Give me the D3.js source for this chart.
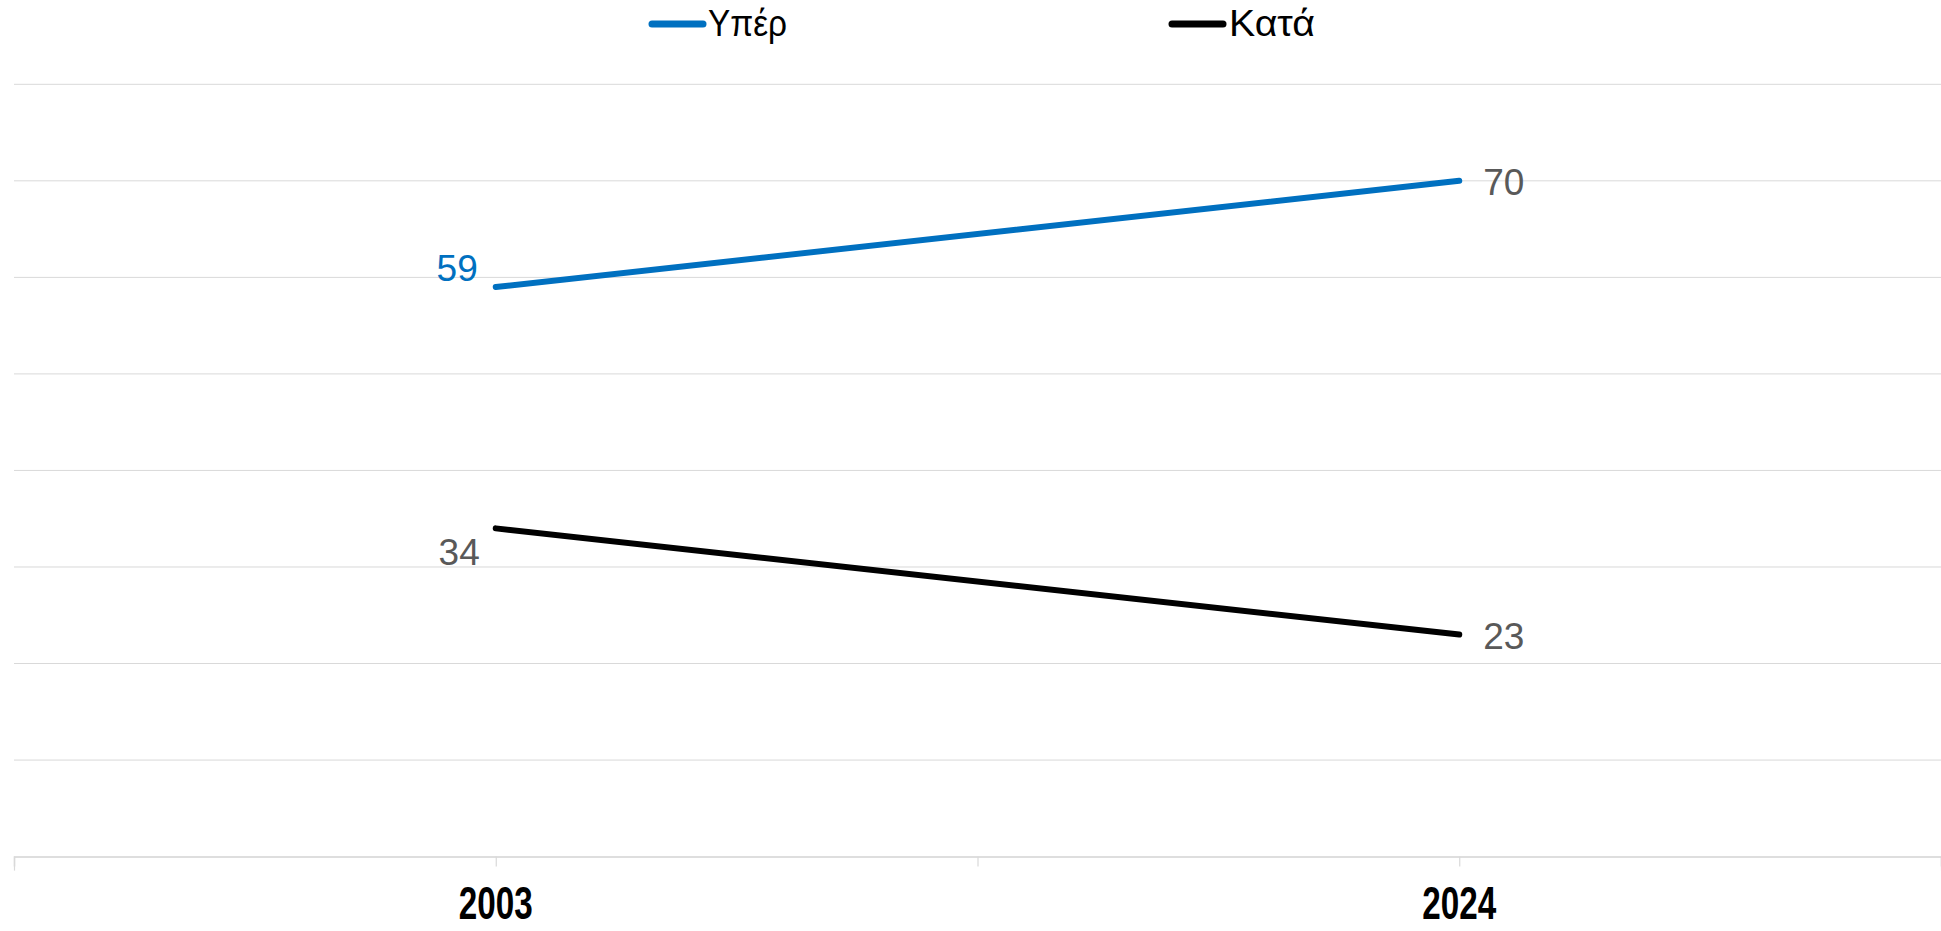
<!DOCTYPE html>
<html>
<head>
<meta charset="utf-8">
<script src="https://cdn.jsdelivr.net/npm/d3@7"></script>
<style>
  html, body { margin: 0; padding: 0; background: #fff; }
  svg { display: block; }
</style>
</head>
<body>
<svg id="chart" width="1941" height="931"></svg>
<script>
const categories = ["2003", "2024"];
const seriesNames = ["Υπέρ", "Κατά"];
const yperValues = [59, 70];
const kataValues = [34, 23];
const yTicks = [0, 10, 20, 30, 40, 50, 60, 70, 80];

const W = 1941, H = 931;
const svg = d3.select("#chart");
const sans = "'Liberation Sans', Arial, sans-serif";

// x: 4 equal slots, categories at positions 1 and 3
const x = d3.scaleLinear().domain([0, 4]).range([14, 1941]);
const catPos = categories.map((c, i) => 1 + 2 * i);
const y = d3.scaleLinear().domain([0, 80]).range([856.6, 84.3]);

// gridlines
svg.append("g").selectAll("line").data(yTicks.filter(d => d > 0)).join("line")
  .attr("x1", x(0)).attr("x2", x(4))
  .attr("y1", d => y(d)).attr("y2", d => y(d))
  .attr("stroke", "#d9d9d9").attr("stroke-width", 1);

// x axis
const axisG = svg.append("g").attr("transform", `translate(0,${y(0)})`);
axisG.call(d3.axisBottom(x).tickValues([0, 1, 2, 3, 4]).tickSize(10).tickFormat(""));
axisG.select(".domain").attr("stroke", "#d4d4d4").attr("stroke-width", 1.5);
axisG.selectAll(".tick line").attr("stroke", "#d9d9d9").attr("stroke-width", 1.2)
  .attr("y2", d => (d === 0 || d === 4) ? 14 : 10);

// category labels (condensed bold)
svg.append("g").selectAll("text").data(categories).join("text")
  .attr("x", (d, i) => x(catPos[i]))
  .attr("y", 919)
  .attr("text-anchor", "middle")
  .attr("font-family", sans)
  .attr("font-weight", "bold")
  .attr("font-size", 46)
  .attr("textLength", 74)
  .attr("lengthAdjust", "spacingAndGlyphs")
  .attr("fill", "#000")
  .text(d => d);

const series = [
  { name: seriesNames[0], values: yperValues, color: "#0070c0" },
  { name: seriesNames[1], values: kataValues, color: "#000000" }
];

const line = d3.line().x((d, i) => x(catPos[i])).y(d => y(d));

series.forEach(s => {
  svg.append("path")
    .attr("d", line(s.values))
    .attr("fill", "none")
    .attr("stroke", s.color)
    .attr("stroke-width", 6)
    .attr("stroke-linecap", "round");
});

// data labels
const labelG = svg.append("g").attr("font-family", sans).attr("font-size", 37);
labelG.append("text").attr("x", x(catPos[0]) - 18).attr("y", y(yperValues[0]) - 6)
  .attr("text-anchor", "end").attr("fill", "#0070c0").text(yperValues[0]);
labelG.append("text").attr("x", x(catPos[0]) - 16).attr("y", y(kataValues[0]) + 37)
  .attr("text-anchor", "end").attr("fill", "#595959").text(kataValues[0]);
labelG.append("text").attr("x", x(catPos[1]) + 24).attr("y", y(yperValues[1]) + 14)
  .attr("text-anchor", "start").attr("fill", "#595959").text(yperValues[1]);
labelG.append("text").attr("x", x(catPos[1]) + 24).attr("y", y(kataValues[1]) + 14)
  .attr("text-anchor", "start").attr("fill", "#595959").text(kataValues[1]);

// legend
const legendPos = [{ lx: 652, tx: 708, tw: 79 }, { lx: 1172, tx: 1229, tw: 86 }];
series.forEach((s, i) => {
  const p = legendPos[i];
  svg.append("line")
    .attr("x1", p.lx).attr("x2", p.lx + 51)
    .attr("y1", 24).attr("y2", 24)
    .attr("stroke", s.color).attr("stroke-width", 7).attr("stroke-linecap", "round");
  svg.append("text")
    .attr("x", p.tx).attr("y", 36)
    .attr("font-family", sans).attr("font-size", 37).attr("fill", "#000")
    .attr("textLength", p.tw).attr("lengthAdjust", "spacingAndGlyphs")
    .text(s.name);
});
</script>
</body>
</html>
